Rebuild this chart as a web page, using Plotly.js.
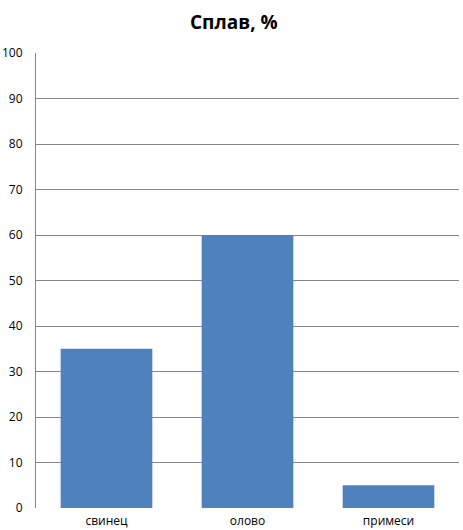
<!DOCTYPE html>
<html><head><meta charset="utf-8">
<script src="https://cdn.plot.ly/plotly-3.0.1.min.js"></script>
<style>body{margin:0;background:#fff}#c{width:463px;height:530px}</style>
</head><body><div id="c"></div>
<script>
const categories = ["свинец", "олово", "примеси"];
const values = [35, 60, 5];
const yTicks = [0,10,20,30,40,50,60,70,80,90,100];

Plotly.newPlot('c', [{
  type: 'bar', x: categories, y: values,
  marker: {color: '#4F81BD'}, width: 0.65, hoverinfo: 'none'
}], {
  width: 463, height: 530,
  margin: {l: 36, r: 4, t: 53, b: 22},
  paper_bgcolor: '#fff', plot_bgcolor: '#fff',
  font: {family: 'Open Sans, Liberation Sans, sans-serif', size: 12, color: '#000'},
  title: {text: '<b>Сплав, %</b>', x: 0.505, xanchor: 'center', y: 0.958, yanchor: 'middle',
          font: {size: 19, color: '#000', family: 'Open Sans, sans-serif'}},
  showlegend: false,
  xaxis: {showline: false, showgrid: false, zeroline: false, ticks: '', ticklabelstandoff: 4, tickfont: {size: 12}},
  yaxis: {range: [0, 100], tickvals: yTicks, ticktext: yTicks.map(String), showgrid: true,
          gridcolor: '#868686', gridwidth: 1, zeroline: false, showline: true, linecolor: '#868686',
          linewidth: 1, ticks: '', ticklabelstandoff: 10, tickfont: {size: 12}}
}, {staticPlot: true});
</script></body></html>
